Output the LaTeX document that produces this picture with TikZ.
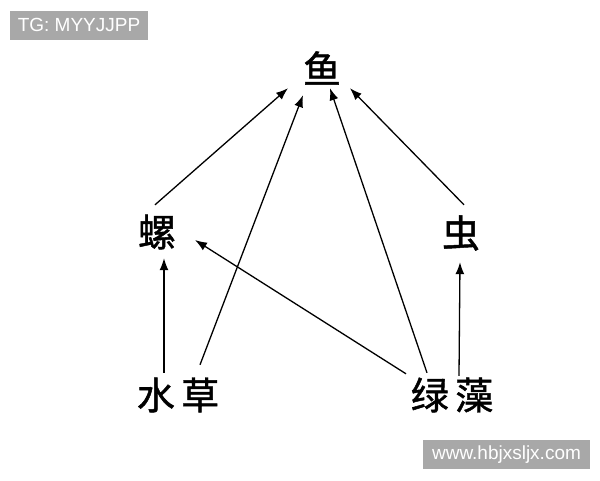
\documentclass[tikz,border=0pt]{standalone}
\usepackage{fontspec}
\setmainfont{Liberation Sans}
\newfontfamily\cjk[FakeBold=1.2]{Noto Sans CJK SC}
\usetikzlibrary{arrows.meta}

\begin{document}
\begin{tikzpicture}[x=1pt, y=-1pt]
    \tikzset{
        organism/.style={
            font=\cjk\fontsize{38}{40}\selectfont,
            minimum height=56pt, inner sep=0pt,
        },
        feeds/.style={
            -{Latex[length=12pt, width=9pt]},
            line width=1.3pt,
        },
        mark box/.style={
            fill=black!34, text=white, inner sep=0pt,
            font=\fontsize{19}{21}\selectfont,
        },
    }
    \useasboundingbox (0,0) rectangle (600,480);

    % Vertices
    \node[organism] (yu) at (322, 68) {鱼};
    \node[organism] (luo) at (157, 232) {螺};
    \node[organism] (chong) at (461, 233) {虫};
    \node[organism] (shuicao) at (178, 395) {水\,草};
    \node[organism] (lvzao) at (452, 395) {绿\,藻};

    % Marks
    \node[mark box, minimum width=138pt, minimum height=29pt] (tg) at (79, 25) {TG: MYYJJPP};
    \node[mark box, minimum width=167pt, minimum height=29pt] (site) at (506.5, 454.5) {www.hbjxsljx.com};

    % Arcs
    \draw[feeds] ([shift={(-2,1)}]luo.north) -- ([shift={(-34,-8)}]yu.south);
    \draw[feeds] ([shift={(22,-2)}]shuicao.north) -- ([shift={(-19,-1)}]yu.south);
    \draw[feeds] ([shift={(-25,6)}]lvzao.north) -- ([shift={(8,-8)}]yu.south);
    \draw[feeds] ([shift={(3,0)}]chong.north) -- ([shift={(28,-8)}]yu.south);
    \draw[feeds] ([shift={(-14,6)}]shuicao.north) -- ([shift={(7,-2)}]luo.south);
    \draw[feeds] ([shift={(-46,7)}]lvzao.north) -- ([shift={(38,8)}]luo.center);
    \draw[feeds] ([shift={(7,9)}]lvzao.north) -- ([shift={(-1,1)}]chong.south);
\end{tikzpicture}
\end{document}
